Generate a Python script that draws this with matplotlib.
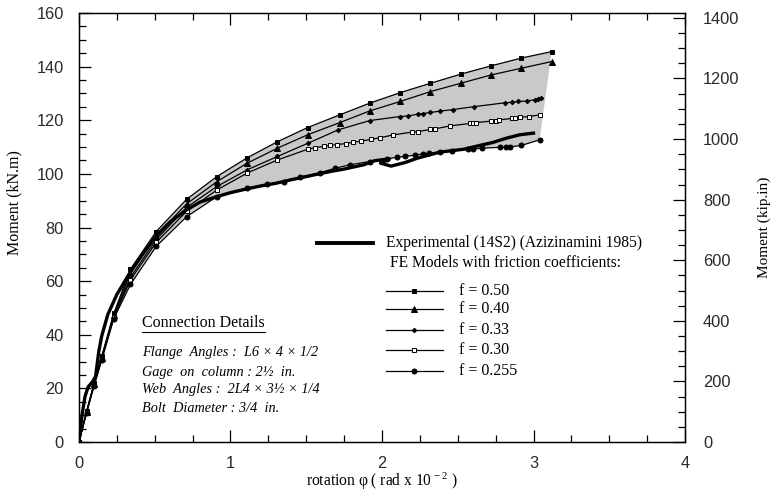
import numpy as np
import matplotlib
matplotlib.use('Agg')
import matplotlib.pyplot as plt
from matplotlib.lines import Line2D
from matplotlib.ticker import MultipleLocator

# rotation (rad x 10^-2) and moment (kN.m) read for each friction coefficient
x_f050 = [0, 0.05, 0.1, 0.15, 0.23, 0.34, 0.51, 0.71, 0.91, 1.11, 1.31, 1.51,
          1.72, 1.92, 2.12, 2.32, 2.52, 2.72, 2.92, 3.12]
m_f050 = [0, 11.5, 22, 32, 48, 64.5, 78.5, 90.5, 99, 106, 112, 117.3,
          122, 126.4, 130.3, 133.8, 137.2, 140.3, 143.2, 145.6]

x_f040 = [0, 0.05, 0.1, 0.15, 0.23, 0.34, 0.51, 0.71, 0.91, 1.11, 1.31, 1.51,
          1.72, 1.92, 2.12, 2.32, 2.52, 2.72, 2.92, 3.12]
m_f040 = [0, 11.3, 21.7, 31.5, 47.5, 63, 77, 88.8, 97.1, 104, 109.6, 114.6,
          119.1, 123.5, 127, 130.7, 133.8, 136.9, 139.4, 141.9]

x_f033 = [0, 0.05, 0.1, 0.15, 0.23, 0.34, 0.51, 0.71, 0.91, 1.11, 1.31, 1.51,
          1.71, 1.92, 2.12, 2.17, 2.24, 2.27, 2.32, 2.38, 2.47, 2.61, 2.81,
          2.86, 2.9, 2.96, 3.01, 3.03, 3.05]
m_f033 = [0, 11, 21.5, 31, 47, 61.5, 75.5, 87.5, 95.3, 101.5, 106.5, 111.4,
          116.4, 119.9, 121.4, 121.6, 122.3, 122.5, 122.9, 123.4, 124, 125.1, 126.5,
          126.7, 127, 127.2, 127.7, 128, 128.2]

x_f030 = [0, 0.05, 0.1, 0.15, 0.23, 0.34, 0.51, 0.71, 0.91, 1.11, 1.31, 1.51,
          1.56, 1.62, 1.66, 1.7, 1.76, 1.81, 1.86, 1.93, 1.99, 2.07, 2.2, 2.24,
          2.32, 2.35, 2.45, 2.58, 2.6, 2.62, 2.72, 2.75, 2.77, 2.86, 2.88, 2.91,
          2.97, 3.04]
m_f030 = [0, 11, 21.3, 31, 46.5, 60.5, 74.5, 86, 94, 100.3, 105.2, 109.2,
          109.8, 110.3, 110.6, 110.9, 111.3, 111.8, 112.2, 112.9, 113.5, 114.5, 115.6, 115.8,
          116.6, 116.8, 117.9, 118.8, 119, 119.1, 119.7, 119.9, 120.1, 120.7, 120.9, 121.1,
          121.4, 122]

x_f0255 = [0, 0.05, 0.1, 0.15, 0.23, 0.34, 0.51, 0.71, 0.91, 1.11, 1.24, 1.35,
           1.46, 1.59, 1.69, 1.79, 1.92, 2.03, 2.1, 2.15, 2.22, 2.27, 2.31, 2.38,
           2.46, 2.57, 2.6, 2.66, 2.78, 2.82, 2.845, 2.92, 3.04]
m_f0255 = [0, 10.8, 21, 30.5, 46, 58.8, 73, 84, 91.5, 94.7, 96.1, 97.1,
           98.8, 100.4, 102.1, 103.4, 104.6, 105.6, 106.2, 106.5, 107, 107.4, 107.7, 108.1,
           108.7, 109.1, 109.2, 109.6, 109.9, 110, 110.1, 110.6, 112.7]

# test 14S2 (Azizinamini 1985), including the small unload/reload loop near 2.0
x_exp = [0, 0.02, 0.04, 0.06, 0.09, 0.11, 0.12, 0.13, 0.15, 0.19, 0.25, 0.34,
         0.42, 0.51, 0.6, 0.71, 0.8, 0.91, 1.0, 1.1, 1.2, 1.3, 1.4, 1.5, 1.6,
         1.66, 1.75, 1.88, 1.95, 2.05, 1.99, 2.06, 2.15, 2.23, 2.38, 2.54,
         2.66, 2.73, 2.82, 2.91, 3.0]
m_exp = [0, 10, 17, 20.5, 22.5, 24.5, 29, 33.5, 39.5, 47.5, 55, 63.5,
         70, 76.9, 82, 86.6, 89.5, 91.5, 93, 94.3, 95.5, 96.5, 97.8, 99, 100.2,
         100.9, 101.8, 103.4, 104.9, 105.6, 104, 102.9, 104.2, 105.8, 108.1, 109.2,
         110.8, 111.7, 113.3, 114.6, 115.2]

f_labels = ['f = 0.50', 'f = 0.40', 'f = 0.33', 'f = 0.30', 'f = 0.255']
KIP_IN_PER_KNM = 8.8507

SERIF = 'Liberation Serif'
SANS = 'Liberation Sans'


def main():
    plt.rcParams['mathtext.fontset'] = 'custom'
    plt.rcParams['mathtext.rm'] = SERIF
    plt.rcParams['mathtext.it'] = SERIF + ':italic'

    fig = plt.figure(figsize=(7.75, 4.97), dpi=100)
    ax = fig.add_axes([0.1019, 0.1107, 0.782, 0.8631])

    # grey band between the stiffest and the most flexible model
    band_x = np.concatenate([x_f050, x_f0255[::-1]])
    band_y = np.concatenate([m_f050, m_f0255[::-1]])
    ax.fill(band_x, band_y, color='#c9c9c9', lw=0, zorder=1)

    styles = [
        dict(marker='s', ms=3.4, mfc='black'),
        dict(marker='^', ms=3.8, mfc='black'),
        dict(marker='D', ms=2.3, mfc='black'),
        dict(marker='s', ms=3.2, mfc='white'),
        dict(marker='o', ms=3.6, mfc='black'),
    ]
    series = [(x_f050, m_f050), (x_f040, m_f040), (x_f033, m_f033),
              (x_f030, m_f030), (x_f0255, m_f0255)]
    for (xs, ms), st in zip(series, styles):
        ax.plot(xs, ms, color='black', lw=0.9, mec='black', mew=0.7,
                zorder=3, **st)

    ax.plot(x_exp, m_exp, color='black', lw=2.4, solid_joinstyle='round', zorder=4)

    ax.set_xlim(0, 4)
    ax.set_ylim(0, 160)
    ax.xaxis.set_major_locator(MultipleLocator(1))
    ax.xaxis.set_minor_locator(MultipleLocator(0.25))
    ax.yaxis.set_major_locator(MultipleLocator(20))
    ax.yaxis.set_minor_locator(MultipleLocator(5))
    ax.tick_params(which='both', direction='in', top=True, right=False, width=0.9,
                   labelsize=11.8, labelcolor='#2a2a2a')
    ax.tick_params(which='major', length=8.5)
    ax.tick_params(which='minor', length=5)
    ax.tick_params(axis='x', pad=10)
    ax.tick_params(axis='y', pad=11)
    for lab in ax.get_xticklabels() + ax.get_yticklabels():
        lab.set_fontfamily(SANS)
    for sp in ax.spines.values():
        sp.set_linewidth(1.0)

    ax2 = ax.twinx()
    ax2.set_ylim(0, 160 * KIP_IN_PER_KNM)
    ax2.yaxis.set_major_locator(MultipleLocator(200))
    ax2.yaxis.set_minor_locator(MultipleLocator(50))
    ax2.tick_params(which='both', direction='in', width=0.9, labelsize=11.8,
                    labelcolor='#2a2a2a', pad=13)
    ax2.tick_params(which='major', length=8.5)
    ax2.tick_params(which='minor', length=5)
    for lab in ax2.get_yticklabels():
        lab.set_fontfamily(SANS)

    ax.set_xlabel(r'rotation φ ( rad x 10$^{\,-2}$ )', fontfamily=SERIF, fontsize=11.2)
    ax.xaxis.set_label_coords(0.5, -0.066)
    ax.set_ylabel('Moment (kN.m)', fontfamily=SERIF, fontsize=11.5)
    ax.yaxis.set_label_coords(-0.093, 0.557)
    ax2.set_ylabel('Moment (kip.in)', fontfamily=SERIF, fontsize=11)
    ax2.yaxis.set_label_coords(1.12, 0.5)

    # hand-made legend
    tr = ax.transAxes
    ax.add_line(Line2D([0.393, 0.485], [0.464, 0.464], transform=tr, color='black', lw=2.8))
    ax.text(0.507, 0.464, 'Experimental (14S2) (Azizinamini 1985)', transform=tr,
            fontfamily=SERIF, fontsize=11.2, va='center')
    ax.text(0.513, 0.417, 'FE Models with friction coefficients:', transform=tr,
            fontfamily=SERIF, fontsize=11.2, va='center')
    rows = [0.352, 0.310, 0.261, 0.2145, 0.1655]
    for yy, lab, st in zip(rows, f_labels, styles):
        ax.add_line(Line2D([0.507, 0.601], [yy, yy], transform=tr, color='black', lw=0.9))
        ax.add_line(Line2D([0.553], [yy], transform=tr, color='black', mec='black',
                           mew=0.7, **st))
        ax.text(0.627, yy, lab, transform=tr, fontfamily=SERIF, fontsize=11.5,
                va='center')

    # connection details box
    title = ax.text(0.104, 0.277, 'Connection Details', transform=tr,
                    fontfamily=SERIF, fontsize=11.5, va='center')
    details = ['Flange  Angles :  L6 × 4 × 1/2',
               'Gage  on  column : 2½  in.',
               'Web  Angles :  2L4 × 3½ × 1/4',
               'Bolt  Diameter : 3/4  in.']
    for yy, line in zip([0.2075, 0.163, 0.1235, 0.079], details):
        ax.text(0.104, yy, line, transform=tr, fontfamily=SERIF, fontsize=10.3,
                style='italic', va='center')

    fig.canvas.draw()
    bb = title.get_window_extent()
    inv = fig.transFigure.inverted()
    (x0, y0), (x1, _) = inv.transform([(bb.x0, bb.y0 - 1), (bb.x1, bb.y0 - 1)])
    fig.add_artist(Line2D([x0, x1], [y0, y0], transform=fig.transFigure,
                          color='black', lw=0.8))

    fig.savefig('out.png', dpi=100)


if __name__ == "__main__":
    main()
